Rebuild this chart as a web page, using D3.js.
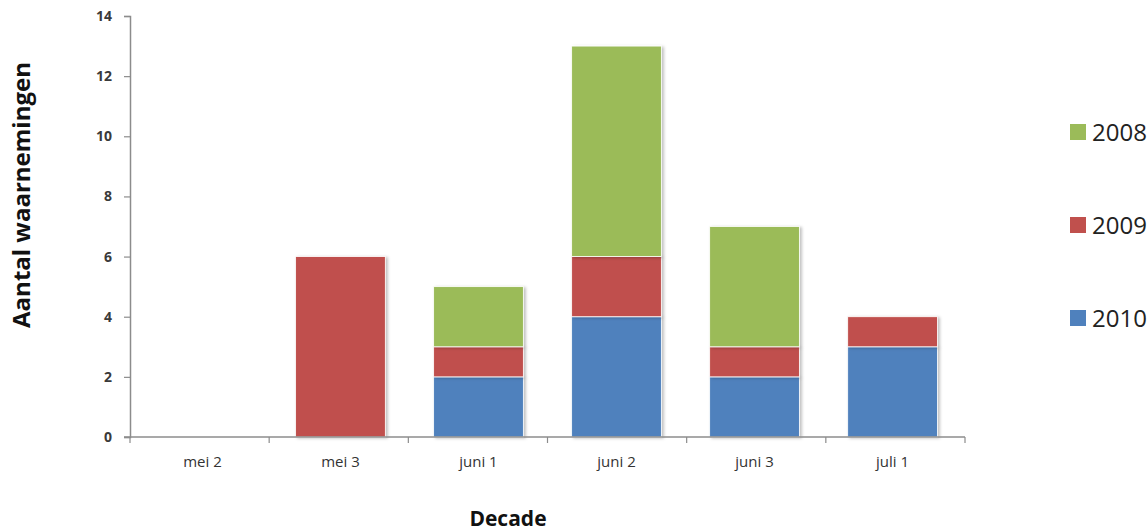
<!DOCTYPE html>
<html lang="nl">
<head>
  <meta charset="UTF-8" />
  <title>Aantal waarnemingen per decade</title>
  <script src="https://d3js.org/d3.v7.min.js"></script>
  <style>
    body { margin: 0; background: #fff; }
    text { font-family: "Open Sans", "Liberation Sans", sans-serif; }
  </style>
</head>
<body>
  <div id="chart"></div>
  <script>
    // data
    const categories = ["mei 2", "mei 3", "juni 1", "juni 2", "juni 3", "juli 1"];
    const years = ["2010", "2009", "2008"];
    const values2010 = [0, 0, 2, 4, 2, 3];
    const values2009 = [0, 6, 1, 2, 1, 1];
    const values2008 = [0, 0, 2, 7, 4, 0];
    const yTicks = [0, 2, 4, 6, 8, 10, 12, 14];
    const colors = { "2008": "#9bbb59", "2009": "#c0504d", "2010": "#4f81bd" };

    const width = 1148, height = 531;
    const margin = { top: 16, left: 130, right: 183, bottom: 94 };

    const svg = d3.select("#chart").append("svg")
      .attr("width", width).attr("height", height);

    const x = d3.scaleBand().domain(categories)
      .range([margin.left, width - margin.right])
      .paddingInner(0.35).paddingOuter(0.2);
    const y = d3.scaleLinear().domain([0, 14])
      .range([height - margin.bottom, margin.top]);

    const rows = categories.map((c, i) => ({
      cat: c, "2010": values2010[i], "2009": values2009[i], "2008": values2008[i]
    }));
    const stacked = d3.stack().keys(years)(rows);

    // soft shadow
    const defs = svg.append("defs");
    const f = defs.append("filter").attr("id", "shadow")
      .attr("x", "-10%").attr("y", "-10%").attr("width", "130%").attr("height", "130%");
    f.append("feDropShadow").attr("dx", 2).attr("dy", 1).attr("stdDeviation", 1.5)
      .attr("flood-color", "#000").attr("flood-opacity", 0.25);

    const bars = svg.append("g");
    stacked.forEach(layer => {
      bars.append("g").attr("fill", colors[layer.key])
        .selectAll("rect").data(layer.filter(d => d[1] > d[0])).enter()
        .append("rect")
        .attr("x", d => x(d.data.cat))
        .attr("width", x.bandwidth())
        .attr("y", d => y(d[1]))
        .attr("height", d => y(d[0]) - y(d[1]))
        .attr("stroke", "#fff").attr("stroke-width", 0.8)
        .attr("filter", "url(#shadow)");
    });

    // y axis
    const yAxis = svg.append("g")
      .attr("transform", `translate(${margin.left},0)`)
      .call(d3.axisLeft(y).tickValues(yTicks).tickSize(6).tickPadding(12));
    yAxis.select(".domain").attr("stroke", "#8c8c8c").attr("stroke-width", 1.5);
    yAxis.selectAll(".tick line").attr("stroke", "#8c8c8c").attr("stroke-width", 1.2);
    yAxis.selectAll("text").attr("font-size", 14).attr("font-weight", "bold").attr("fill", "#3a3a3a");

    // x axis
    const x0 = margin.left, x1 = width - margin.right, y0 = y(0);
    svg.append("line").attr("x1", x0 - 6).attr("x2", x1).attr("y1", y0).attr("y2", y0)
      .attr("stroke", "#8c8c8c").attr("stroke-width", 1.5);
    const step = (x1 - x0) / categories.length;
    d3.range(categories.length + 1).forEach(i => {
      svg.append("line").attr("x1", x0 + i * step).attr("x2", x0 + i * step)
        .attr("y1", y0).attr("y2", y0 + 6)
        .attr("stroke", "#8c8c8c").attr("stroke-width", 1.2);
    });
    svg.append("g").selectAll("text").data(categories).enter().append("text")
      .attr("x", d => x(d) + x.bandwidth() / 2)
      .attr("y", y0 + 30)
      .attr("text-anchor", "middle")
      .attr("font-size", 15).attr("fill", "#333")
      .text(d => d);

    // axis titles
    svg.append("text")
      .attr("transform", `translate(30,195) rotate(-90)`)
      .attr("text-anchor", "middle")
      .attr("font-size", 24).attr("font-weight", "bold").attr("fill", "#111")
      .text("Aantal waarnemingen");
    svg.append("text")
      .attr("x", 508).attr("y", 526)
      .attr("text-anchor", "middle")
      .attr("font-size", 21).attr("font-weight", "bold").attr("fill", "#111")
      .text("Decade");

    // legend
    const legendY = { "2008": 132, "2009": 225, "2010": 318 };
    ["2008", "2009", "2010"].forEach(k => {
      const g = svg.append("g").attr("transform", `translate(1070,${legendY[k]})`);
      g.append("rect").attr("x", 0).attr("y", -8).attr("width", 16).attr("height", 16)
        .attr("fill", colors[k]);
      g.append("text").attr("x", 22).attr("y", 9)
        .attr("font-size", 24).attr("fill", "#222").text(k);
    });
  </script>
</body>
</html>
